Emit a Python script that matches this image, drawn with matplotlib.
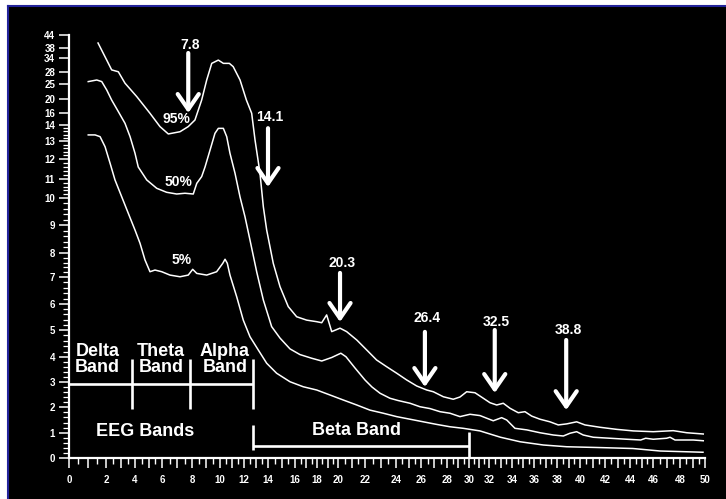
import numpy as np
import matplotlib
matplotlib.use("Agg")
import matplotlib.pyplot as plt
from matplotlib.patches import Rectangle
from matplotlib.lines import Line2D

# ---------------- data ----------------
# axis tick values and where they sit on the (hand-drawn, warped) original axes
x_ticks = [0, 2, 4, 6, 8, 10, 12, 14, 16, 18, 20, 22, 24, 26, 28, 30, 32, 34, 36, 38, 40, 42, 44, 46, 48, 50]
x_tick_pos = [69, 106, 135, 162, 192, 220, 244, 268, 295, 317, 338, 365, 396, 421, 447, 469, 489, 512,
              534, 557, 580, 605, 630, 653, 680, 705]
y_ticks = [0, 1, 2, 3, 4, 5, 6, 7, 8, 9, 10, 11, 12, 13, 14, 16, 20, 25, 28, 34, 38, 44]
y_tick_pos = [0, 25, 51, 76, 101, 128, 154, 181, 205, 233, 260, 279, 299, 317, 333, 345, 359, 374, 386, 400, 410, 423]

freq95 = [1.57, 2.05, 2.39, 2.85, 3.31, 4.13, 5.11, 5.85, 6.42, 7.2, 7.75, 8.21, 8.69, 9.05, 9.41, 9.88, 10.28,
          10.78, 11.1, 11.67, 12.2, 12.64, 12.92, 13.33, 13.61, 13.89, 14.39, 14.89, 15.5, 16.15, 17.06, 17.97,
          18.45, 18.92, 19.4, 20.15, 20.64, 21.39, 22.11, 22.75, 23.4, 24.06, 24.86, 25.66, 26.44, 26.95, 27.72,
          28.57, 29.18, 29.79, 30.6, 31.43, 32.09, 32.67, 33.24, 33.83, 34.57, 35.18, 35.79, 36.52, 37.39, 38.11,
          38.84, 39.71, 40.4, 41.6, 42.94, 44.29, 46.02, 47.5, 48.54, 49.86]
pow95 = [40.3, 33.1, 28.9, 28.1, 25.2, 20.8, 15.95, 13.9, 13.44, 13.58, 13.9, 14.83, 19.7, 26, 31.7, 33.1, 31.7,
         31.7, 30.3, 26, 19.7, 15.95, 13.06, 11.3, 9.68, 8.82, 7.57, 6.64, 5.9, 5.51, 5.38, 5.32, 5.28, 5.58, 4.94,
         5.07, 4.94, 4.63, 4.26, 3.88, 3.61, 3.35, 3.08, 2.84, 2.68, 2.61, 2.41, 2.31, 2.4, 2.61, 2.57, 2.35, 2.17,
         2.08, 2.15, 1.95, 1.78, 1.82, 1.65, 1.53, 1.43, 1.31, 1.35, 1.43, 1.31, 1.22, 1.14, 1.08, 1.05, 1.09,
         1.01, 0.96]

freq50 = [1.04, 1.5, 1.77, 2.05, 2.39, 2.85, 3.31, 3.66, 4.0, 4.24, 4.87, 5.61, 6.31, 6.98, 7.53, 8.09, 8.34,
          8.69, 8.93, 9.29, 9.64, 9.88, 10.28, 10.56, 10.83, 11.25, 11.67, 12.08, 12.5, 13.06, 13.61, 14.27,
          14.89, 15.63, 16.45, 17.52, 18.45, 19.4, 20.21, 20.59, 21.26, 22.0, 22.45, 22.97, 23.61, 24.16, 25.12,
          25.92, 26.69, 27.46, 28.27, 29.18, 30.1, 31.1, 32.37, 33.1, 33.54, 34.27, 35.34, 36.52, 37.68, 38.55,
          39.13, 39.71, 40.26, 41.06, 42.4, 43.74, 44.93, 45.36, 46.02, 47.01, 47.26, 47.63, 49.06, 49.86]
pow50 = [25.6, 26, 25.6, 23, 19.7, 16.4, 14.28, 13.27, 12.32, 11.6, 10.95, 10.51, 10.3, 10.21, 10.25, 10.21,
         10.77, 11.12, 11.6, 12.5, 13.48, 13.79, 13.79, 13.27, 12.32, 11.29, 10.05, 9.31, 8.46, 7.21, 6.15, 5.13,
         4.7, 4.3, 4.09, 3.95, 3.84, 3.98, 4.14, 4.01, 3.56, 3.08, 2.8, 2.55, 2.35, 2.26, 2.15, 2.01, 1.94, 1.82,
         1.76, 1.63, 1.72, 1.67, 1.47, 1.59, 1.5, 1.18, 1.12, 1.01, 0.92, 0.88, 0.99, 1.05, 0.92, 0.83, 0.79,
         0.75, 0.72, 0.79, 0.75, 0.79, 0.83, 0.72, 0.72, 0.69]

freq5 = [1.04, 1.41, 1.68, 1.95, 2.28, 2.62, 3.08, 3.54, 4.0, 4.37, 4.74, 5.11, 5.48, 5.98, 6.53, 7.2, 7.75,
         8.05, 8.34, 9.05, 9.76, 10.23, 10.42, 10.61, 10.83, 11.39, 11.94, 12.5, 13.19, 13.89, 14.64, 15.63,
         16.75, 17.97, 19.24, 20.39, 21.39, 22.32, 23.18, 24.05, 25.12, 26.18, 27.21, 28.27, 29.48, 31.1, 33.0,
         34.73, 36.81, 38.84, 41.36, 44.24, 46.52, 49.84]
pow5 = [13.38, 13.38, 13.27, 12.68, 11.79, 10.95, 10.07, 9.43, 8.82, 8.35, 7.71, 7.22, 7.29, 7.22, 7.08, 7.01,
        7.08, 7.32, 7.15, 7.08, 7.22, 7.57, 7.74, 7.57, 7.08, 6.27, 5.38, 4.75, 4.26, 3.75, 3.35, 3.01, 2.81,
        2.68, 2.48, 2.28, 2.08, 1.88, 1.76, 1.63, 1.53, 1.43, 1.33, 1.24, 1.18, 1.08, 0.83, 0.65, 0.52, 0.45,
        0.42, 0.38, 0.28, 0.23]

curve_labels = ["95%", "50%", "5%"]
curve_label_x = [6.93, 7.13, 7.33]
curve_label_y = [15.0, 10.84, 7.71]

peak_labels = ["7.8", "14.1", "20.3", "26.4", "32.5", "38.8"]
peak_x = [7.75, 14.0, 20.15, 26.3, 32.5, 38.8]
peak_text_y = [39.4, 15.3, 7.58, 5.46, 5.31, 5.0]
peak_start_y = [36.0, 13.8, 7.17, 4.93, 5.0, 4.63]
peak_tip_y = [16.0, 10.58, 5.31, 2.8, 2.56, 1.88]

band_names = ["Delta\nBand", "Theta\nBand", "Alpha\nBand"]
band_label_x = [1.55, 5.93, 10.4]
band_label_y = [3.9, 3.9, 3.9]
band_edges = [3.8, 7.87, 12.75]
beta_start, beta_end = 12.75, 30

# ---------------- scales ----------------
XK = [-10] + x_ticks + [60]
XP = [x_tick_pos[0] - 185] + x_tick_pos + [x_tick_pos[-1] + 125]
YK = [-10] + y_ticks + [80]
YP = [-259] + y_tick_pos + [y_tick_pos[-1] + 100]

def xf(v):
    return np.interp(v, XK, XP)

def xi(p):
    return np.interp(p, XP, XK)

def yf(v):
    return np.interp(v, YK, YP)

def yi(p):
    return np.interp(p, YP, YK)

# ---------------- figure ----------------
W, H = 726, 499
fig = plt.figure(figsize=(W / 100, H / 100), dpi=100, facecolor="black")
FONT = "Liberation Sans"

ax = fig.add_axes([69 / W, (H - 458) / H, (705 - 69) / W, (458 - 35) / H])
ax.set_facecolor("black")
ax.set_xscale("function", functions=(xf, xi))
ax.set_yscale("function", functions=(yf, yi))
ax.set_xlim(0, 50)
ax.set_ylim(0, 44)

for s in ["top", "right"]:
    ax.spines[s].set_visible(False)
for s in ["left", "bottom"]:
    ax.spines[s].set_color("white")
    ax.spines[s].set_linewidth(1.6)

ax.set_xticks(list(range(0, 51)))
ax.set_xticklabels([str(v) if v in x_ticks else "" for v in range(0, 51)])
ax.set_xticks(np.arange(0.5, 50, 1.0), minor=True)
ax.set_yticks(y_ticks)
ax.set_yticklabels([str(v) for v in y_ticks])
ax.set_yticks(np.round(np.arange(0, 14.01, 0.2), 2), minor=True)

ax.tick_params(axis="x", which="major", direction="out", length=7, width=1.1, color="white",
               labelcolor="white", pad=5)
ax.tick_params(axis="x", which="minor", direction="out", length=4.5, width=1.0, color="white")
ax.tick_params(axis="y", which="major", direction="out", length=7.5, width=1.1, color="white",
               labelcolor="white", pad=2.5)
ax.tick_params(axis="y", which="minor", direction="out", length=4, width=0.9, color="white")
for lab in ax.get_xticklabels() + ax.get_yticklabels():
    lab.set_fontfamily(FONT)
    lab.set_fontweight("bold")
    lab.set_fontsize(7)

# curves
for fx, py in [(freq95, pow95), (freq50, pow50), (freq5, pow5)]:
    ax.plot(fx, py, color="white", lw=1.1, solid_joinstyle="round")

for t, x, y in zip(curve_labels, curve_label_x, curve_label_y):
    ax.text(x, y, t, color="white", fontsize=10, fontweight="bold", family=FONT, ha="center", va="center")

# peak arrows
for t, x, ty, sy, tip in zip(peak_labels, peak_x, peak_text_y, peak_start_y, peak_tip_y):
    ax.annotate("", xy=(x, tip), xytext=(x, sy),
                arrowprops=dict(arrowstyle="->,head_width=0.38,head_length=0.55", lw=3, color="white",
                                mutation_scale=20, shrinkA=0, shrinkB=0))
    ax.text(x + 0.15, ty, t, color="white", fontsize=10, fontweight="bold", family=FONT,
            ha="center", va="center")

# EEG band bracket
blw = 1.9
ax.plot([0, band_edges[-1]], [2.92, 2.92], color="white", lw=blw, solid_capstyle="butt")
for e in band_edges:
    ax.plot([e, e], [1.92, 3.92], color="white", lw=blw, solid_capstyle="butt")
for t, x, y in zip(band_names, band_label_x, band_label_y):
    ax.text(x, y, t, color="white", fontsize=13, fontweight="bold", family=FONT, ha="center",
            va="center", linespacing=0.92)
ax.text(4.74, 1.04, "EEG Bands", color="white", fontsize=13, fontweight="bold", family=FONT,
        ha="center", va="center")

# Beta band bracket
ax.plot([beta_start, beta_start], [0.32, 1.31], color="white", lw=blw, solid_capstyle="butt")
ax.plot([beta_start, beta_end], [0.48, 0.48], color="white", lw=blw, solid_capstyle="butt")
ax.plot([beta_end, beta_end], [0.0, 1.04], color="white", lw=blw, solid_capstyle="butt")
ax.text(21.4, 1.08, "Beta Band", color="white", fontsize=13, fontweight="bold", family=FONT,
        ha="center", va="center")

# outer frame (white margin + navy border at top/left)
fig.patches.append(Rectangle((0, 0), 7 / W, 1, transform=fig.transFigure, facecolor="white",
                             edgecolor="none", zorder=-1))
fig.patches.append(Rectangle((0, 1 - 5 / H), 1, 5 / H, transform=fig.transFigure, facecolor="white",
                             edgecolor="none", zorder=-1))
fig.lines.append(Line2D([8 / W, 8 / W], [0, 1 - 5.5 / H], transform=fig.transFigure, color="#23239a", lw=1.5))
fig.lines.append(Line2D([7.5 / W, 1], [1 - 6 / H, 1 - 6 / H], transform=fig.transFigure, color="#23239a", lw=1.5))

fig.savefig("out.png", dpi=100, facecolor="black")
